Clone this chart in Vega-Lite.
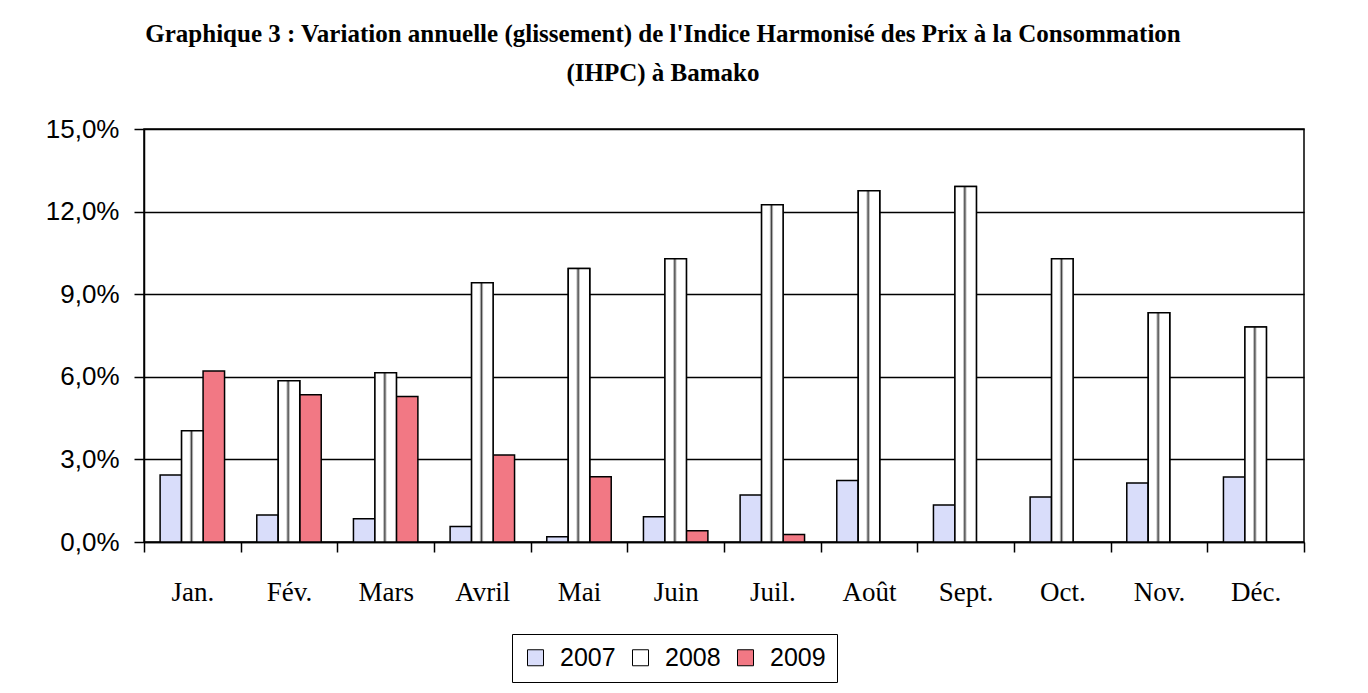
{
  "$schema": "https://vega.github.io/schema/vega-lite/v6.json",
  "autosize": {"type": "none"},
  "width": 1160,
  "height": 413,
  "padding": {"left": 144, "top": 129, "right": 64, "bottom": 151},
  "background": "white",
  "title": {
    "text": ["Graphique 3 :  Variation annuelle (glissement) de l'Indice Harmonisé des Prix à la Consommation", "(IHPC) à Bamako"],
    "font": "Liberation Serif",
    "fontSize": 25,
    "fontWeight": "bold",
    "color": "black",
    "lineHeight": 39,
    "anchor": "middle",
    "dx": -61,
    "offset": 30
  },
  "data": {
    "values": [
      {"month": "Jan.", "year": "2007", "value": 2.43},
      {"month": "Jan.", "year": "2008", "value": 4.04},
      {"month": "Jan.", "year": "2009", "value": 6.21},
      {"month": "Fév.", "year": "2007", "value": 0.98},
      {"month": "Fév.", "year": "2008", "value": 5.86},
      {"month": "Fév.", "year": "2009", "value": 5.35},
      {"month": "Mars", "year": "2007", "value": 0.84},
      {"month": "Mars", "year": "2008", "value": 6.15},
      {"month": "Mars", "year": "2009", "value": 5.28},
      {"month": "Avril", "year": "2007", "value": 0.56},
      {"month": "Avril", "year": "2008", "value": 9.42},
      {"month": "Avril", "year": "2009", "value": 3.16},
      {"month": "Mai", "year": "2007", "value": 0.19},
      {"month": "Mai", "year": "2008", "value": 9.93},
      {"month": "Mai", "year": "2009", "value": 2.37},
      {"month": "Juin", "year": "2007", "value": 0.92},
      {"month": "Juin", "year": "2008", "value": 10.29},
      {"month": "Juin", "year": "2009", "value": 0.41},
      {"month": "Juil.", "year": "2007", "value": 1.71},
      {"month": "Juil.", "year": "2008", "value": 12.25},
      {"month": "Juil.", "year": "2009", "value": 0.27},
      {"month": "Août", "year": "2007", "value": 2.23},
      {"month": "Août", "year": "2008", "value": 12.76},
      {"month": "Sept.", "year": "2007", "value": 1.34},
      {"month": "Sept.", "year": "2008", "value": 12.91},
      {"month": "Oct.", "year": "2007", "value": 1.63},
      {"month": "Oct.", "year": "2008", "value": 10.29},
      {"month": "Nov.", "year": "2007", "value": 2.14},
      {"month": "Nov.", "year": "2008", "value": 8.33},
      {"month": "Déc.", "year": "2007", "value": 2.36},
      {"month": "Déc.", "year": "2008", "value": 7.81}
    ]
  },
  "encoding": {
    "x": {
      "field": "month",
      "type": "nominal",
      "sort": ["Jan.", "Fév.", "Mars", "Avril", "Mai", "Juin", "Juil.", "Août", "Sept.", "Oct.", "Nov.", "Déc."],
      "scale": {"paddingInner": 0, "paddingOuter": 0},
      "axis": {
        "title": null,
        "labelAngle": 0,
        "labelFont": "Liberation Serif",
        "labelFontSize": 27,
        "labelColor": "black",
        "labelPadding": 27,
        "tickBand": "extent",
        "tickSize": 10,
        "tickColor": "black",
        "tickWidth": 1.5,
        "domainColor": "black",
        "domainWidth": 1.5,
        "grid": false
      }
    },
    "xOffset": {
      "field": "year",
      "type": "nominal",
      "scale": {"domain": ["2007", "2008", "2009"], "paddingInner": 0, "paddingOuter": 0.75}
    },
    "y": {
      "field": "value",
      "type": "quantitative",
      "scale": {"domain": [0, 15], "nice": false},
      "axis": {
        "title": null,
        "values": [0, 3, 6, 9, 12, 15],
        "labelExpr": "replace(format(datum.value, '.1f'), '.', ',') + '%'",
        "labelFont": "Liberation Sans",
        "labelFontSize": 26,
        "labelColor": "black",
        "labelPadding": 15,
        "tickSize": 10,
        "tickColor": "black",
        "tickWidth": 1.5,
        "domainColor": "black",
        "domainWidth": 1.5,
        "grid": true,
        "gridColor": "black",
        "gridWidth": 1.5,
        "gridOpacity": 1
      }
    }
  },
  "layer": [
    {
      "mark": {"type": "bar", "stroke": "black", "strokeWidth": 1.5, "fillOpacity": 1},
      "encoding": {
        "color": {
          "field": "year",
          "type": "nominal",
          "scale": {"domain": ["2007", "2008", "2009"], "range": ["#d9ddfa", "#ffffff", "#f27884"]},
          "legend": {
            "title": null,
            "orient": "none",
            "legendX": 368,
            "legendY": 505,
            "direction": "horizontal",
            "symbolType": "square",
            "symbolSize": 256,
            "symbolStrokeColor": "black",
            "symbolStrokeWidth": 1,
            "symbolOpacity": 1,
            "labelFont": "Liberation Sans",
            "labelFontSize": 25,
            "labelColor": "black",
            "labelOffset": 12,
            "columnPadding": 12,
            "padding": 11,
            "strokeColor": "black",
            "fillColor": "white"
          }
        }
      }
    },
    {
      "transform": [{"filter": "datum.year == '2008'"}],
      "mark": {
        "type": "bar",
        "stroke": "black",
        "strokeWidth": 1.5,
        "fill": {"gradient": "linear", "x1": 0, "y1": 0, "x2": 1, "y2": 0, "stops": [
          {"offset": 0, "color": "#ffffff"},
          {"offset": 0.36, "color": "#ffffff"},
          {"offset": 0.41, "color": "#b0b0b0"},
          {"offset": 0.46, "color": "#404040"},
          {"offset": 0.51, "color": "#b0b0b0"},
          {"offset": 0.56, "color": "#ffffff"},
          {"offset": 1, "color": "#ffffff"}
        ]}
      },
      "encoding": {}
    }
  ],
  "config": {
    "view": {"stroke": "black", "strokeWidth": 1.5}
  }
}
